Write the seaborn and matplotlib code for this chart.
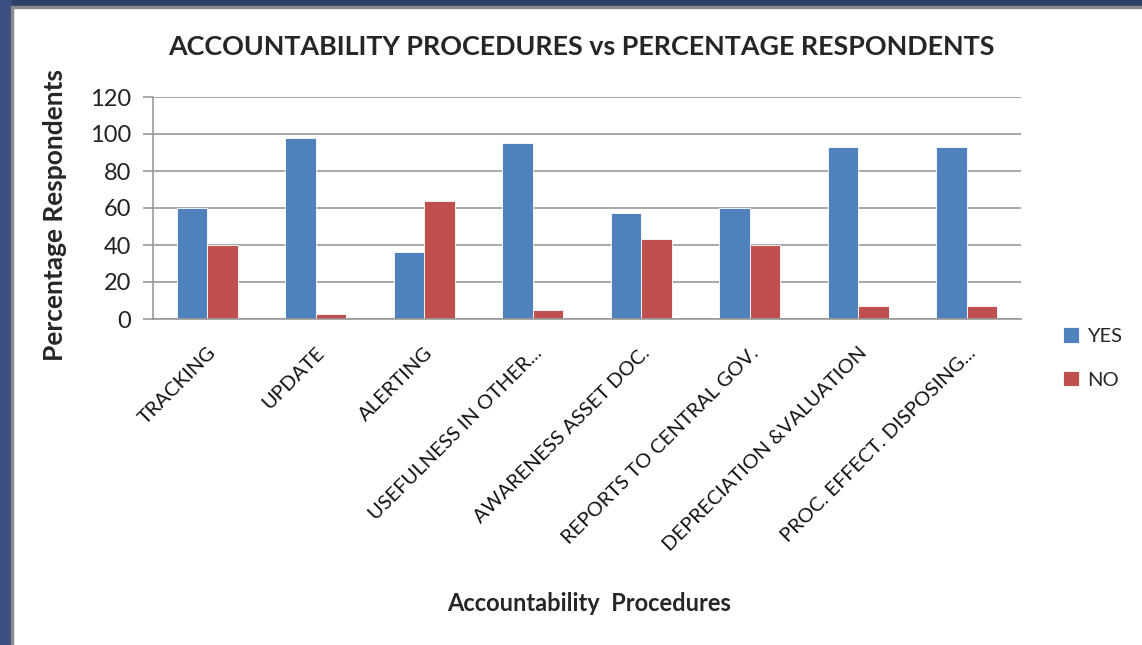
import matplotlib
matplotlib.use("Agg")
import matplotlib.pyplot as plt
import pandas as pd
import seaborn as sns
from matplotlib.patches import Rectangle

procedures = [
    "TRACKING",
    "UPDATE",
    "ALERTING",
    "USEFULNESS IN OTHER...",
    "AWARENESS ASSET DOC.",
    "REPORTS TO CENTRAL GOV.",
    "DEPRECIATION &VALUATION",
    "PROC. EFFECT. DISPOSING...",
]
yes_values = [60, 98, 36, 95, 57.5, 60, 93, 93]
no_values = [40, 2.5, 64, 5, 43, 40, 7, 7]
responses = ["YES", "NO"]
colors = ["#4f81bd", "#c0504d"]

df = pd.DataFrame({"procedure": procedures, "YES": yes_values, "NO": no_values})
long = df.melt(id_vars="procedure", value_vars=responses, var_name="response", value_name="percent")

sns.set_theme(style="white")
plt.rcParams["font.family"] = ["Lato", "DejaVu Sans"]

fig = plt.figure(figsize=(11.42, 6.45), dpi=100)
ax = fig.add_axes([153 / 1142, 1 - 319 / 645, (1021 - 153) / 1142, (319 - 97) / 645])

sns.barplot(
    data=long, x="procedure", y="percent", hue="response",
    palette=colors, width=0.56, saturation=1, ax=ax,
    edgecolor="white", linewidth=0.6,
)

ax.set_ylim(0, 120)
ax.set_yticks(range(0, 121, 20))
ax.yaxis.grid(True, color="#999999", linewidth=1.2)
ax.set_axisbelow(True)
for side in ["top", "right"]:
    ax.spines[side].set_visible(False)
for side in ["left", "bottom"]:
    ax.spines[side].set_color("#999999")
    ax.spines[side].set_linewidth(1.2)
ax.tick_params(axis="y", left=True, length=7, color="#999999", width=1.2, labelsize=17, pad=9, labelcolor="#222222")
ax.tick_params(axis="x", bottom=False, labelsize=14.5, pad=12, labelcolor="#111111")
plt.setp(ax.get_xticklabels(), rotation=45, ha="right", rotation_mode="anchor")

ax.set_xlabel("Accountability  Procedures", fontsize=17, fontweight="bold")
ax.set_ylabel("Percentage Respondents", fontsize=19, fontweight="bold")
ax.xaxis.set_label_coords(0.502, -(592 - 319) / 222)
ax.yaxis.set_label_coords(-(153 - 67) / 868, 0.47)

fig.text(581 / 1142, 1 - 47 / 645, "ACCOUNTABILITY PROCEDURES vs PERCENTAGE RESPONDENTS",
         ha="center", va="center", fontsize=19.4, fontweight="bold")

ax.legend(loc="center left", bbox_to_anchor=(1045 / 1142, 1 - 358 / 645), bbox_transform=fig.transFigure,
          frameon=False, fontsize=14.5, handlelength=0.8, handleheight=0.8, labelspacing=1.3, handletextpad=0.4)

# dark slide frame along top and left edges
fig.patches.append(Rectangle((0, 1 - 6 / 645), 1, 6 / 645, transform=fig.transFigure, color="#2e3f68", zorder=0))
fig.patches.append(Rectangle((0, 1 - 8 / 645), 1, 2 / 645, transform=fig.transFigure, color="#8a8a8a", zorder=0))
fig.patches.append(Rectangle((0, 0), 11 / 1142, 1, transform=fig.transFigure, color="#3b4f80", zorder=0))
fig.patches.append(Rectangle((11 / 1142, 0), 2 / 1142, 1 - 6 / 645, transform=fig.transFigure, color="#8a8a8a", zorder=0))

fig.savefig("out.png", dpi=100)
